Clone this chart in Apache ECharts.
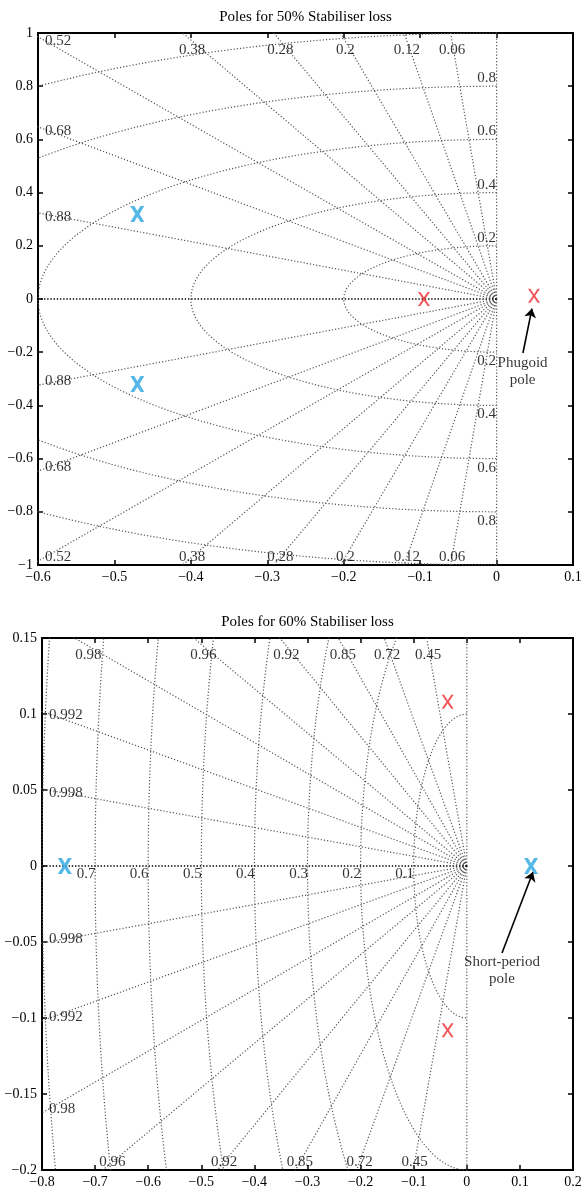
<!DOCTYPE html>
<html>
<head>
<meta charset="utf-8">
<script src="https://cdn.jsdelivr.net/npm/echarts@6/dist/echarts.min.js"></script>
<style>
  html, body { margin: 0; padding: 0; background: #fff; }
  #chart { width: 583px; height: 1188px; }
</style>
</head>
<body>
<div id="chart"></div>
<script>
// --- plot 1: 50% stabiliser loss
const titleA = 'Poles for 50% Stabiliser loss';
const xRangeA = [-0.6, 0.1];
const yRangeA = [-1, 1];
const stepA = [0.1, 0.2];
const zetaA = [0.06, 0.12, 0.2, 0.28, 0.38, 0.52, 0.68, 0.88];
const wnA = [0.2, 0.4, 0.6, 0.8, 1.0];
const wnLabelA = [0.2, 0.4, 0.6, 0.8];
const blueA = [[-0.47, 0.32], [-0.47, -0.32]];
const redA = [[-0.095, 0], [0.049, 0.012]];

// --- plot 2: 60% stabiliser loss
const titleB = 'Poles for 60% Stabiliser loss';
const xRangeB = [-0.8, 0.2];
const yRangeB = [-0.2, 0.15];
const stepB = [0.1, 0.05];
const zetaB = [0.45, 0.72, 0.85, 0.92, 0.96, 0.98, 0.992, 0.998];
const wnB = [0.1, 0.2, 0.3, 0.4, 0.5, 0.6, 0.7, 0.8];
const wnLabelB = [0.1, 0.2, 0.3, 0.4, 0.5, 0.6, 0.7];
const blueB = [[-0.757, 0], [0.121, 0]];
const redB = [[-0.036, 0.108], [-0.036, -0.108]];

const gridA = { left: 38, top: 33, width: 535, height: 532 };
const gridB = { left: 42, top: 638, width: 531, height: 532 };

const FONT = 'Liberation Serif';
const BLUE = '#2ba6e0';
const RED = '#ee2a2f';
const X_THIN = 'path://M0,0H2L5,4.6L8,0H10L6,6L10,12H8L5,7.4L2,12H0L4,6Z';
const X_BOLD = 'path://M0,0H2.8L5,3.9L7.2,0H10L6.5,6L10,12H7.2L5,8.1L2.8,12H0L3.5,6Z';

function fmt(v) {
  return String(Math.round(v * 1000) / 1000).replace('-', '\u2212');
}

// sgrid: damping rays, natural frequency semicircles and their labels
function sgrid(gi, g, xr, yr, zetas, wns, wnLabels, wnOnReal) {
  const ky = g.height / (yr[1] - yr[0]);
  const out = [];
  const base = {
    type: 'line', xAxisIndex: gi * 2, yAxisIndex: gi * 2, symbol: 'none',
    silent: true, z: 1, lineStyle: { color: '#555', width: 1.2, type: [1.2, 2] }
  };
  const R = 5;
  zetas.forEach(function (z) {
    const s = Math.sqrt(1 - z * z);
    [1, -1].forEach(function (sg) {
      out.push(Object.assign({}, base, { data: [[0, 0], [-z * R, sg * s * R]] }));
    });
  });
  wns.forEach(function (r) {
    const pts = [];
    for (let i = 0; i <= 180; i++) {
      const a = Math.PI / 2 + i * Math.PI / 180;
      pts.push([r * Math.cos(a), r * Math.sin(a)]);
    }
    out.push(Object.assign({}, base, { data: pts }));
  });
  out.push(Object.assign({}, base, { data: [[0, 0], [0, R]] }));
  out.push(Object.assign({}, base, { data: [[0, 0], [0, -R]] }));
  out.push(Object.assign({}, base, {
    lineStyle: { color: '#000', width: 1.4, type: [1.4, 1.8] }, data: [[0, 0], [-R, 0]]
  }));

  const labels = [];
  zetas.forEach(function (z) {
    const s = Math.sqrt(1 - z * z);
    [1, -1].forEach(function (sg) {
      const yEdge = sg > 0 ? yr[1] : yr[0];
      const tY = Math.abs(yEdge) / s, tX = -xr[0] / z;
      if (tY < tX) {
        const yA = yEdge - sg * 8 / ky;
        labels.push({ value: [-z / s * Math.abs(yA), yA], name: String(z),
          label: { offset: [0, sg > 0 ? 9 : 0] } });
      } else {
        labels.push({ value: [xr[0], sg * s * tX], name: String(z),
          label: { align: 'left', offset: [7, sg > 0 ? 4 : -4] } });
      }
    });
  });
  wnLabels.forEach(function (r) {
    if (wnOnReal) {
      labels.push({ value: [-r, 0], name: String(r), label: { offset: [-9, 8] } });
    } else {
      labels.push({ value: [0, r], name: String(r), label: { offset: [-10, -8] } });
      labels.push({ value: [0, -r], name: String(r), label: { offset: [-10, 9] } });
    }
  });
  out.push({
    type: 'scatter', xAxisIndex: gi * 2, yAxisIndex: gi * 2, silent: true, z: 2,
    symbolSize: 0, itemStyle: { color: 'transparent' },
    label: { show: true, position: 'inside', formatter: '{b}', color: '#000',
      fontFamily: FONT, fontSize: 15 },
    data: labels
  });
  return out;
}

function poles(gi, data, color, sym, size) {
  return {
    type: 'scatter', xAxisIndex: gi * 2, yAxisIndex: gi * 2, silent: true, z: 5,
    symbol: sym, symbolSize: size, itemStyle: { color: color }, data: data
  };
}

function note(gi, at, text, from, to) {
  return {
    type: 'scatter', xAxisIndex: gi * 2, yAxisIndex: gi * 2, silent: true, z: 6,
    symbolSize: 0, itemStyle: { color: 'transparent' },
    label: { show: true, position: 'inside', formatter: text, color: '#000',
      fontFamily: FONT, fontSize: 15, lineHeight: 17 },
    data: [at],
    markLine: {
      silent: true, symbol: ['none', 'arrow'], symbolSize: 9, animation: false,
      label: { show: false },
      lineStyle: { color: '#000', width: 1.6, type: 'solid' },
      data: [[{ coord: from }, { coord: to }]]
    }
  };
}

function axes(gi, range, step, horizontal) {
  const common = {
    gridIndex: gi, type: 'value', min: range[0], max: range[1], interval: step,
    axisLine: { show: true, onZero: false, lineStyle: { color: '#000', width: 2 } },
    axisTick: { show: true, inside: true, length: 5, lineStyle: { color: '#000', width: 1.5 } },
    splitLine: { show: false }
  };
  return [
    Object.assign({}, common, {
      position: horizontal ? 'bottom' : 'left',
      axisLabel: { margin: 5, color: '#000', fontFamily: FONT, fontSize: 14,
        showMinLabel: true, showMaxLabel: true, formatter: fmt }
    }),
    Object.assign({}, common, { position: horizontal ? 'top' : 'right', axisLabel: { show: false } })
  ];
}

function title(text, g, top) {
  return {
    text: text, left: g.left + g.width / 2, top: top, textAlign: 'center', padding: 0,
    textStyle: { color: '#000', fontFamily: FONT, fontSize: 15, fontWeight: 'normal' }
  };
}

const chart = echarts.init(document.getElementById('chart'));
chart.setOption({
  animation: false,
  backgroundColor: '#fff',
  title: [title(titleA, gridA, 10), title(titleB, gridB, 615)],
  grid: [
    Object.assign({ outerBoundsMode: 'none', containLabel: false }, gridA),
    Object.assign({ outerBoundsMode: 'none', containLabel: false }, gridB)
  ],
  xAxis: axes(0, xRangeA, stepA[0], true).concat(axes(1, xRangeB, stepB[0], true)),
  yAxis: axes(0, yRangeA, stepA[1], false).concat(axes(1, yRangeB, stepB[1], false)),
  series: [].concat(
    sgrid(0, gridA, xRangeA, yRangeA, zetaA, wnA, wnLabelA, false),
    sgrid(1, gridB, xRangeB, yRangeB, zetaB, wnB, wnLabelB, true),
    [
      poles(0, blueA, BLUE, X_BOLD, [14, 16]),
      poles(0, redA, RED, X_THIN, [12, 14]),
      poles(1, blueB, BLUE, X_BOLD, [14, 16]),
      poles(1, redB, RED, X_THIN, [12, 14]),
      note(0, [0.034, -0.271], 'Phugoid\npole', [0.0345, -0.203], [0.0463, -0.036]),
      note(1, [0.0663, -0.069], 'Short-period\npole', [0.0663, -0.0572], [0.1247, -0.004])
    ]
  )
});
</script>
</body>
</html>
